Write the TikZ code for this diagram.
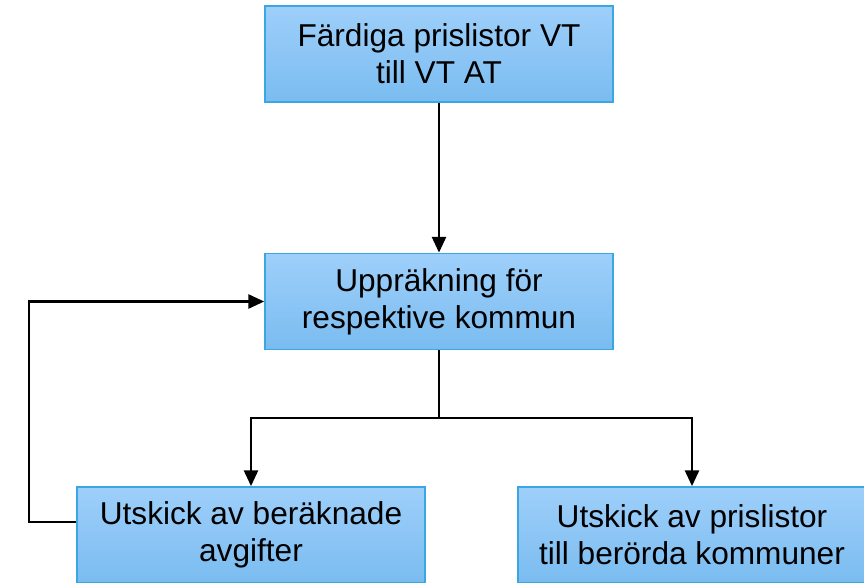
\documentclass[tikz,border=0pt]{standalone}
\usepackage{fontspec}
\setmainfont{Liberation Sans}
\usetikzlibrary{arrows.meta}
\definecolor{boxtop}{RGB}{158,207,250}
\definecolor{boxbottom}{RGB}{122,188,240}
\definecolor{boxline}{RGB}{58,166,226}
\tikzset{
  stepbox/.style={draw=boxline, line width=1pt, top color=boxtop, bottom color=boxbottom,
    minimum width=6.96cm, minimum height=1.92cm, align=center, inner sep=0pt,
    font=\fontsize{18}{21}\selectfont},
  flow/.style={line width=1.4pt, -{Triangle[length=9pt,width=8pt]}}
}
\begin{document}
\begin{tikzpicture}[x=0.02cm, y=0.02cm]
      \useasboundingbox (0,0) rectangle (864,-582);
      \draw
        (439,-54) node[stepbox] (lists){Färdiga prislistor VT\\till VT AT}
        (439,-301.5) node[stepbox] (upp){Uppräkning för\\respektive kommun}
        (251,-535) node[stepbox] (avg){Utskick av beräknade\\avgifter}
        (692,-535) node[stepbox] (send){Utskick av prislistor\\till berörda kommuner};
      \coordinate (split) at (439,-418);
      \coordinate (back) at (29,-522);
      \begin{scope}[flow]
        \draw (lists) to (upp);
        \draw[-] (upp) to (split);
        \draw (split) -| (avg);
        \draw (split) -| (send);
        \draw (avg.west |- back) -- (back) |- (upp.west);
      \end{scope}
    \end{tikzpicture}
\end{document}
